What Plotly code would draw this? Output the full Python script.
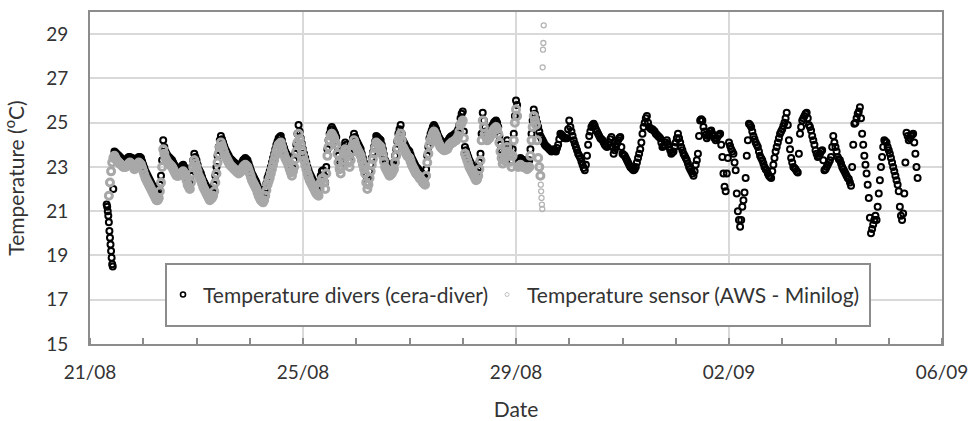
import pandas as pd
import plotly.graph_objects as go

# ---------------- data ----------------
# Temperature divers (cera-diver): first readings every 15 min from 21/08 07:30
div_start_time = "2019-08-21 07:30"
div_start_vals = [21.3, 21.2, 21.0, 20.8, 20.5, 20.1, 19.8, 19.5, 19.2, 18.9, 18.6, 18.5, 22.0]

# then every 30 min from 21/08 11:00
div_time = "2019-08-21 11:00"
div_vals = [
    # 21/08 11:00-23:30
    23.7, 23.65, 23.6, 23.55, 23.5, 23.45, 23.4, 23.35, 23.3, 23.3, 23.3, 23.35, 23.4,
    23.45, 23.45, 23.4, 23.4, 23.3, 23.2, 23.25, 23.35, 23.4, 23.45, 23.45, 23.4, 23.25,
    # 22/08
    23.1, 22.95, 22.8, 22.7, 22.6, 22.5, 22.4, 22.3, 22.2, 22.1, 22.0, 21.9,
    21.8, 21.8, 21.9, 22.2, 22.6, 23.3, 24.2, 23.9, 23.7, 23.6, 23.5, 23.45,
    23.4, 23.35, 23.3, 23.2, 23.1, 23.0, 22.9, 22.9, 22.9, 22.95, 23.0, 23.05,
    23.1, 23.0, 22.9, 22.7, 22.5, 22.4, 22.3, 22.6, 23.0, 23.3, 23.6, 23.45,
    # 23/08
    23.3, 23.1, 22.9, 22.8, 22.7, 22.55, 22.4, 22.3, 22.2, 22.1, 22.0, 21.9,
    21.8, 21.85, 21.9, 22.0, 22.2, 22.6, 23.0, 23.5, 23.9, 24.2, 24.4, 24.25,
    24.1, 23.95, 23.8, 23.7, 23.6, 23.5, 23.4, 23.35, 23.3, 23.25, 23.2, 23.15,
    23.1, 23.05, 23.0, 23.05, 23.1, 23.2, 23.3, 23.35, 23.4, 23.35, 23.3, 23.15,
    # 24/08
    23.0, 22.85, 22.7, 22.6, 22.5, 22.4, 22.3, 22.15, 22.0, 21.9, 21.8, 21.75,
    21.7, 21.8, 22.0, 22.25, 22.5, 22.65, 22.8, 23.0, 23.2, 23.4, 23.6, 23.8,
    24.0, 24.15, 24.3, 24.35, 24.4, 24.2, 24.0, 23.85, 23.7, 23.6, 23.5, 23.35,
    23.2, 23.05, 22.9, 23.0, 23.3, 23.6, 24.0, 24.5, 24.9, 24.6, 24.3, 24.05,
    # 25/08
    23.8, 23.6, 23.4, 23.2, 23.0, 22.85, 22.7, 22.6, 22.5, 22.4, 22.3, 22.2,
    22.1, 22.05, 22.0, 22.3, 22.6, 22.8, 22.85, 22.6, 22.3, 23.0, 23.8, 24.2,
    24.5, 24.7, 24.8, 24.7, 24.6, 24.5, 24.35, 23.9, 23.5, 23.2, 23.0, 23.3,
    23.6, 23.9, 24.1, 24.0, 23.8, 23.5, 23.3, 23.6, 24.0, 24.3, 24.5, 24.35,
    # 26/08
    24.2, 24.1, 24.0, 23.9, 23.8, 23.6, 23.4, 23.2, 23.0, 22.6, 22.3, 22.5,
    22.8, 23.1, 23.4, 23.65, 23.9, 24.15, 24.4, 24.35, 24.3, 24.25, 24.2, 24.0,
    23.8, 23.55, 23.3, 23.2, 23.1, 23.0, 22.9, 22.95, 23.0, 23.1, 23.2, 23.5,
    23.8, 24.15, 24.5, 24.7, 24.9, 24.5, 24.2, 24.1, 24.0, 23.9, 23.8, 23.75,
    # 27/08
    23.7, 23.55, 23.4, 23.3, 23.2, 23.1, 23.0, 22.95, 22.9, 22.8, 22.75, 22.7,
    22.6, 22.55, 22.5, 22.9, 23.5, 23.9, 24.3, 24.5, 24.65, 24.8, 24.9, 24.8,
    24.7, 24.55, 24.4, 24.3, 24.2, 24.15, 24.1, 24.05, 24.05, 24.1, 24.1, 24.2,
    24.3, 24.35, 24.4, 24.4, 24.45, 24.5, 24.5, 24.6, 24.7, 24.9, 25.2, 25.4,
    # 28/08
    25.5, 24.6, 23.9, 23.75, 23.6, 23.45, 23.3, 23.2, 23.1, 23.0, 22.9, 22.8,
    22.7, 22.75, 22.9, 23.2, 23.6, 24.5, 25.45, 25.1, 24.8, 24.6, 24.5, 24.55,
    24.6, 24.7, 24.8, 24.9, 25.0, 25.05, 25.1, 25.0, 24.8, 24.4, 24.0, 23.7,
    23.45, 23.6, 23.8, 24.0, 24.2, 24.0, 23.8, 23.55, 23.3, 23.8, 24.5, 25.3,
    # 29/08
    26.0, 25.8, 23.3, 23.35, 23.4, 23.35, 23.3, 23.3, 23.3, 23.25, 23.2, 23.25,
    23.3, 23.8, 24.5, 25.1, 25.6, 25.4, 25.2, 25.0, 24.8, 24.6, 24.4, 24.3,
    24.2, 24.1, 24.0, 23.95, 23.9, 23.85, 23.8, 23.75, 23.7, 23.75, 23.8, 23.75,
    23.7, 23.85, 24.0, 24.25, 24.5, 24.45, 24.4, 24.35, 24.3, 24.3, 24.3, 24.7,
    # 30/08
    25.1, 24.8, 24.6, 24.4, 24.2, 24.05, 23.9, 23.75, 23.6, 23.5, 23.4, 23.25,
    23.1, 22.95, 22.85, 23.1, 23.5, 24.0, 24.4, 24.6, 24.8, 24.9, 24.95, 24.85,
    24.7, 24.6, 24.5, 24.4, 24.3, 24.25, 24.2, 24.1, 24.0, 23.95, 23.9, 24.0,
    24.1, 24.25, 24.35, 23.9, 23.6, 23.75, 23.9, 24.05, 24.2, 24.3, 24.35, 23.9,
    # 31/08
    23.6, 23.55, 23.5, 23.4, 23.3, 23.2, 23.1, 23.0, 22.95, 22.9, 22.85, 22.9,
    23.0, 23.2, 23.4, 23.6, 23.8, 24.1, 24.5, 24.8, 25.0, 25.2, 25.3, 25.0,
    24.8, 24.75, 24.7, 24.7, 24.65, 24.6, 24.5, 24.45, 24.4, 24.35, 24.3, 24.1,
    23.9, 23.95, 24.0, 24.1, 24.2, 24.05, 23.9, 23.75, 23.6, 23.65, 23.7, 23.9,
    # 01/09
    24.1, 24.3, 24.5, 24.3, 24.1, 23.9, 23.75, 23.6, 23.5, 23.4, 23.3, 23.15,
    23.0, 22.9, 22.8, 22.7, 22.6, 22.8, 23.1, 23.3, 23.6, 24.4, 25.1, 25.15,
    25.1, 24.8, 24.6, 24.45, 24.3, 24.4, 24.5, 24.6, 24.65, 24.5, 24.4, 24.3,
    24.2, 24.3, 24.4, 24.45, 24.5, 24.0, 23.45, 22.7, 22.1, 21.9, 22.7, 23.4,
    # 02/09
    24.1, 23.95, 23.8, 23.7, 23.6, 23.2, 22.85, 21.8, 21.0, 20.6, 20.3, 20.6,
    21.2, 21.5, 21.85, 22.5, 23.5, 24.2, 24.95, 24.9, 24.8, 24.6, 24.4, 24.25,
    24.1, 24.0, 23.9, 23.7, 23.5, 23.4, 23.3, 23.15, 23.0, 22.9, 22.85, 22.7,
    22.6, 22.55, 22.5, 22.8, 23.1, 23.4, 23.7, 23.9, 24.1, 24.3, 24.5, 24.6,
    # 03/09
    24.7, 24.85, 25.0, 25.2, 25.45, 24.9, 24.2, 23.8, 23.4, 23.2, 23.0, 22.95,
    22.9, 22.8, 22.75, 23.6, 24.5, 24.8, 25.1, 25.2, 25.3, 25.4, 25.45, 25.2,
    24.9, 24.8, 24.65, 24.4, 24.2, 24.0, 23.75, 23.6, 23.45, 23.5, 23.6, 23.7,
    23.75, 23.3, 22.85, 22.9, 23.0, 23.1, 23.2, 23.3, 23.45, 23.9, 24.4, 24.1,
    # 04/09
    23.9, 23.7, 23.45, 23.35, 23.3, 23.15, 23.0, 22.9, 22.8, 22.7, 22.6, 22.5,
    22.45, 22.3, 22.15, 23.0, 24.0, 24.95, 25.0, 25.2, 25.4, 25.5, 25.7, 25.2,
    24.5, 24.0, 23.5, 23.1, 22.7, 22.2, 21.6, 20.7, 20.0, 20.2, 20.4, 20.6,
    20.8, 20.6, 21.2, 21.8, 22.4, 23.0, 23.45, 23.9, 24.2, 24.15, 24.1, 23.9,
    # 05/09 00:00-13:00
    23.75, 23.6, 23.4, 23.2, 23.0, 22.8, 22.6, 22.4, 22.2, 21.9, 21.2, 20.8,
    20.6, 20.9, 21.8, 23.2, 24.55, 24.4, 24.2, 24.3, 24.4, 24.45, 24.5, 24.1,
    23.6, 23.0, 22.5,
]

# Temperature sensor (AWS - Minilog): every 30 min from 21/08 08:30
sens_time = "2019-08-21 08:30"
sens_vals = [
    # 21/08 08:30-23:30
    21.7, 22.3, 22.8, 23.2, 23.4, 23.5, 23.4, 23.3, 23.25, 23.2, 23.15, 23.1, 23.05, 23.0, 23.0, 23.0,
    23.05, 23.1, 23.15, 23.2, 23.15, 23.1, 23.0, 22.9, 22.95, 23.0, 23.1, 23.2, 23.15, 23.1, 22.95,
    # 22/08
    22.8, 22.65, 22.5, 22.4, 22.3, 22.2, 22.1, 22.0, 21.9, 21.8, 21.7, 21.6,
    21.5, 21.5, 21.6, 21.9, 22.3, 23.0, 23.8, 23.6, 23.4, 23.3, 23.2, 23.15,
    23.1, 23.05, 23.0, 22.9, 22.8, 22.7, 22.6, 22.6, 22.6, 22.65, 22.7, 22.75,
    22.8, 22.7, 22.6, 22.4, 22.2, 22.1, 22.0, 22.3, 22.7, 23.0, 23.3, 23.15,
    # 23/08
    23.0, 22.8, 22.6, 22.5, 22.4, 22.25, 22.1, 22.0, 21.9, 21.8, 21.7, 21.6,
    21.5, 21.55, 21.6, 21.7, 21.9, 22.3, 22.7, 23.2, 23.6, 23.9, 24.1, 23.95,
    23.8, 23.65, 23.5, 23.4, 23.3, 23.2, 23.1, 23.05, 23.0, 22.95, 22.9, 22.85,
    22.8, 22.75, 22.7, 22.75, 22.8, 22.9, 23.0, 23.05, 23.1, 23.05, 23.0, 22.85,
    # 24/08
    22.7, 22.55, 22.4, 22.3, 22.2, 22.1, 22.0, 21.85, 21.7, 21.6, 21.5, 21.45,
    21.4, 21.5, 21.7, 21.95, 22.2, 22.35, 22.5, 22.7, 22.9, 23.1, 23.3, 23.5,
    23.7, 23.85, 24.0, 24.05, 24.1, 23.9, 23.7, 23.55, 23.4, 23.3, 23.2, 23.05,
    22.9, 22.75, 22.6, 22.8, 23.0, 23.35, 23.7, 24.1, 24.5, 24.25, 24.0, 23.75,
    # 25/08
    23.5, 23.3, 23.1, 22.9, 22.7, 22.55, 22.4, 22.3, 22.2, 22.1, 22.0, 21.9,
    21.8, 21.75, 21.7, 22.0, 22.3, 22.45, 22.5, 22.3, 22.0, 22.7, 23.5, 23.9,
    24.2, 24.4, 24.5, 24.4, 24.3, 24.15, 24.0, 23.6, 23.2, 22.9, 22.7, 23.0,
    23.3, 23.6, 23.8, 23.7, 23.5, 23.2, 23.0, 23.3, 23.7, 24.0, 24.2, 24.05,
    # 26/08
    23.9, 23.8, 23.7, 23.6, 23.5, 23.3, 23.1, 22.9, 22.7, 22.3, 22.0, 22.2,
    22.5, 22.8, 23.1, 23.35, 23.6, 23.85, 24.1, 24.05, 24.0, 23.95, 23.9, 23.7,
    23.5, 23.25, 23.0, 22.9, 22.8, 22.7, 22.6, 22.65, 22.7, 22.8, 22.9, 23.2,
    23.5, 23.85, 24.2, 24.35, 24.5, 24.2, 23.9, 23.8, 23.7, 23.6, 23.5, 23.45,
    # 27/08
    23.4, 23.25, 23.1, 23.0, 22.9, 22.8, 22.7, 22.65, 22.6, 22.5, 22.45, 22.4,
    22.3, 22.25, 22.2, 22.6, 23.2, 23.6, 24.0, 24.2, 24.35, 24.5, 24.6, 24.5,
    24.4, 24.25, 24.1, 24.0, 23.9, 23.85, 23.8, 23.75, 23.75, 23.8, 23.8, 23.9,
    24.0, 24.05, 24.1, 24.1, 24.15, 24.2, 24.2, 24.3, 24.4, 24.6, 24.9, 25.0,
    # 28/08
    25.1, 24.3, 23.6, 23.45, 23.3, 23.15, 23.0, 22.9, 22.8, 22.7, 22.6, 22.5,
    22.4, 22.45, 22.6, 22.9, 23.3, 24.2, 25.1, 24.8, 24.5, 24.35, 24.2, 24.25,
    24.3, 24.4, 24.5, 24.6, 24.7, 24.75, 24.8, 24.7, 24.5, 24.1, 23.7, 23.4,
    23.15, 23.3, 23.5, 23.7, 23.9, 23.7, 23.5, 23.25, 23.0, 23.5, 24.2, 25.0,
    # 29/08 00:00-11:00
    25.6, 25.3, 23.0, 23.05, 23.1, 23.05, 23.0, 23.0, 23.0, 22.95, 22.9, 22.95,
    23.0, 23.5, 24.2, 24.8, 25.3, 25.1, 24.9, 24.2, 23.4, 23.0, 22.6,
]
# last sensor readings every 10 min (drop and spikes)
sens_end_time = "2019-08-29 11:10"
sens_end_vals = [22.2, 21.9, 21.6, 21.3, 21.1, 27.5, 28.3, 28.6, 29.4]

x_ticks = ["2019-08-21", "2019-08-25", "2019-08-29", "2019-09-02", "2019-09-06"]
x_range = ["2019-08-21", "2019-09-06"]
y_range = [15, 30]

name_div = "Temperature divers (cera-diver)"
name_sens = "Temperature sensor (AWS - Minilog)"

# ---------------- build series ----------------
div_t = list(pd.date_range(div_start_time, periods=len(div_start_vals), freq="15min")) + \
        list(pd.date_range(div_time, periods=len(div_vals), freq="30min"))
div_y = div_start_vals + div_vals
sens_t = list(pd.date_range(sens_time, periods=len(sens_vals), freq="30min"))
sens_end_t = list(pd.date_range(sens_end_time, periods=len(sens_end_vals), freq="10min"))

FONT = "Lato, 'Open Sans', sans-serif"
TXT = "#333333"
AX = "#8c8c8c"
GRID = "#d9d9d9"

fig = go.Figure()
fig.add_trace(go.Scatter(
    x=div_t, y=div_y, mode="markers", name=name_div, showlegend=False,
    marker=dict(symbol="circle-open", size=6, color="#000000", line=dict(width=2, color="#000000")),
))
fig.add_trace(go.Scatter(
    x=sens_t, y=sens_vals, mode="markers", name=name_sens, showlegend=False,
    marker=dict(symbol="circle-open", size=7, color="#a8a8a8", line=dict(width=3, color="#a8a8a8")),
))
fig.add_trace(go.Scatter(
    x=sens_end_t, y=sens_end_vals, mode="markers", name=name_sens, showlegend=False,
    marker=dict(symbol="circle-open", size=5, color="#b4b4b4", line=dict(width=1.3, color="#b4b4b4")),
))
# legend entries (one per legend box so their spacing can match the original)
fig.add_trace(go.Scatter(
    x=[None], y=[None], mode="markers", name=name_div, legend="legend",
    marker=dict(symbol="circle-open", size=5, color="#000000", line=dict(width=1.6, color="#000000")),
))
fig.add_trace(go.Scatter(
    x=[None], y=[None], mode="markers", name=name_sens, legend="legend2",
    marker=dict(symbol="circle-open", size=4, color="#c0c0c0", line=dict(width=1, color="#c0c0c0")),
))

leg_common = dict(
    orientation="h", y=0.148, xanchor="left", yanchor="middle",
    bgcolor="rgba(0,0,0,0)", borderwidth=0, font=dict(size=21, color=TXT),
    itemclick=False,
)

fig.update_layout(
    width=971, height=421,
    margin=dict(l=90, r=29, t=12, b=77),
    paper_bgcolor="white", plot_bgcolor="white",
    font=dict(family=FONT, size=19, color=TXT),
    showlegend=True,
    legend=dict(x=0.0857, **leg_common),
    legend2=dict(x=0.466, **leg_common),
    shapes=[dict(
        type="rect", xref="paper", yref="paper",
        x0=0.0892, x1=0.9155, y0=0.0542, y1=0.241,
        fillcolor="white", line=dict(color=AX, width=2), layer="above",
    )],
)
fig.update_xaxes(
    type="date", range=x_range, tickvals=x_ticks, tickformat="%d/%m",
    showgrid=True, gridcolor=GRID, gridwidth=2,
    showline=True, linecolor=AX, linewidth=2, mirror=True,
    ticks="", ticklabelstandoff=10, automargin=False, ticklabeloverflow="allow",
    tickfont=dict(size=19, color=TXT),
    minor=dict(dtick=86400000, tick0="2019-08-21", ticks="inside", ticklen=6,
               tickcolor=AX, tickwidth=2, showgrid=False),
    title=dict(text="Date", standoff=22, font=dict(size=21, color=TXT)),
    zeroline=False,
)
fig.update_yaxes(
    range=y_range, tick0=15, dtick=2,
    showgrid=True, gridcolor=GRID, gridwidth=2,
    showline=True, linecolor=AX, linewidth=2, mirror=True,
    ticks="", ticklabelstandoff=16, automargin=False,
    tickfont=dict(size=19, color=TXT),
    title=dict(text="Temperature (<sup>o</sup>C)", standoff=24, font=dict(size=21, color=TXT)),
    zeroline=False,
)

# remove the browser's default 8 px body margin so the 971x421 figure fills the window
fig.write_html("out.html", config={"displayModeBar": False},
               post_script="document.body.style.margin = '0';")
